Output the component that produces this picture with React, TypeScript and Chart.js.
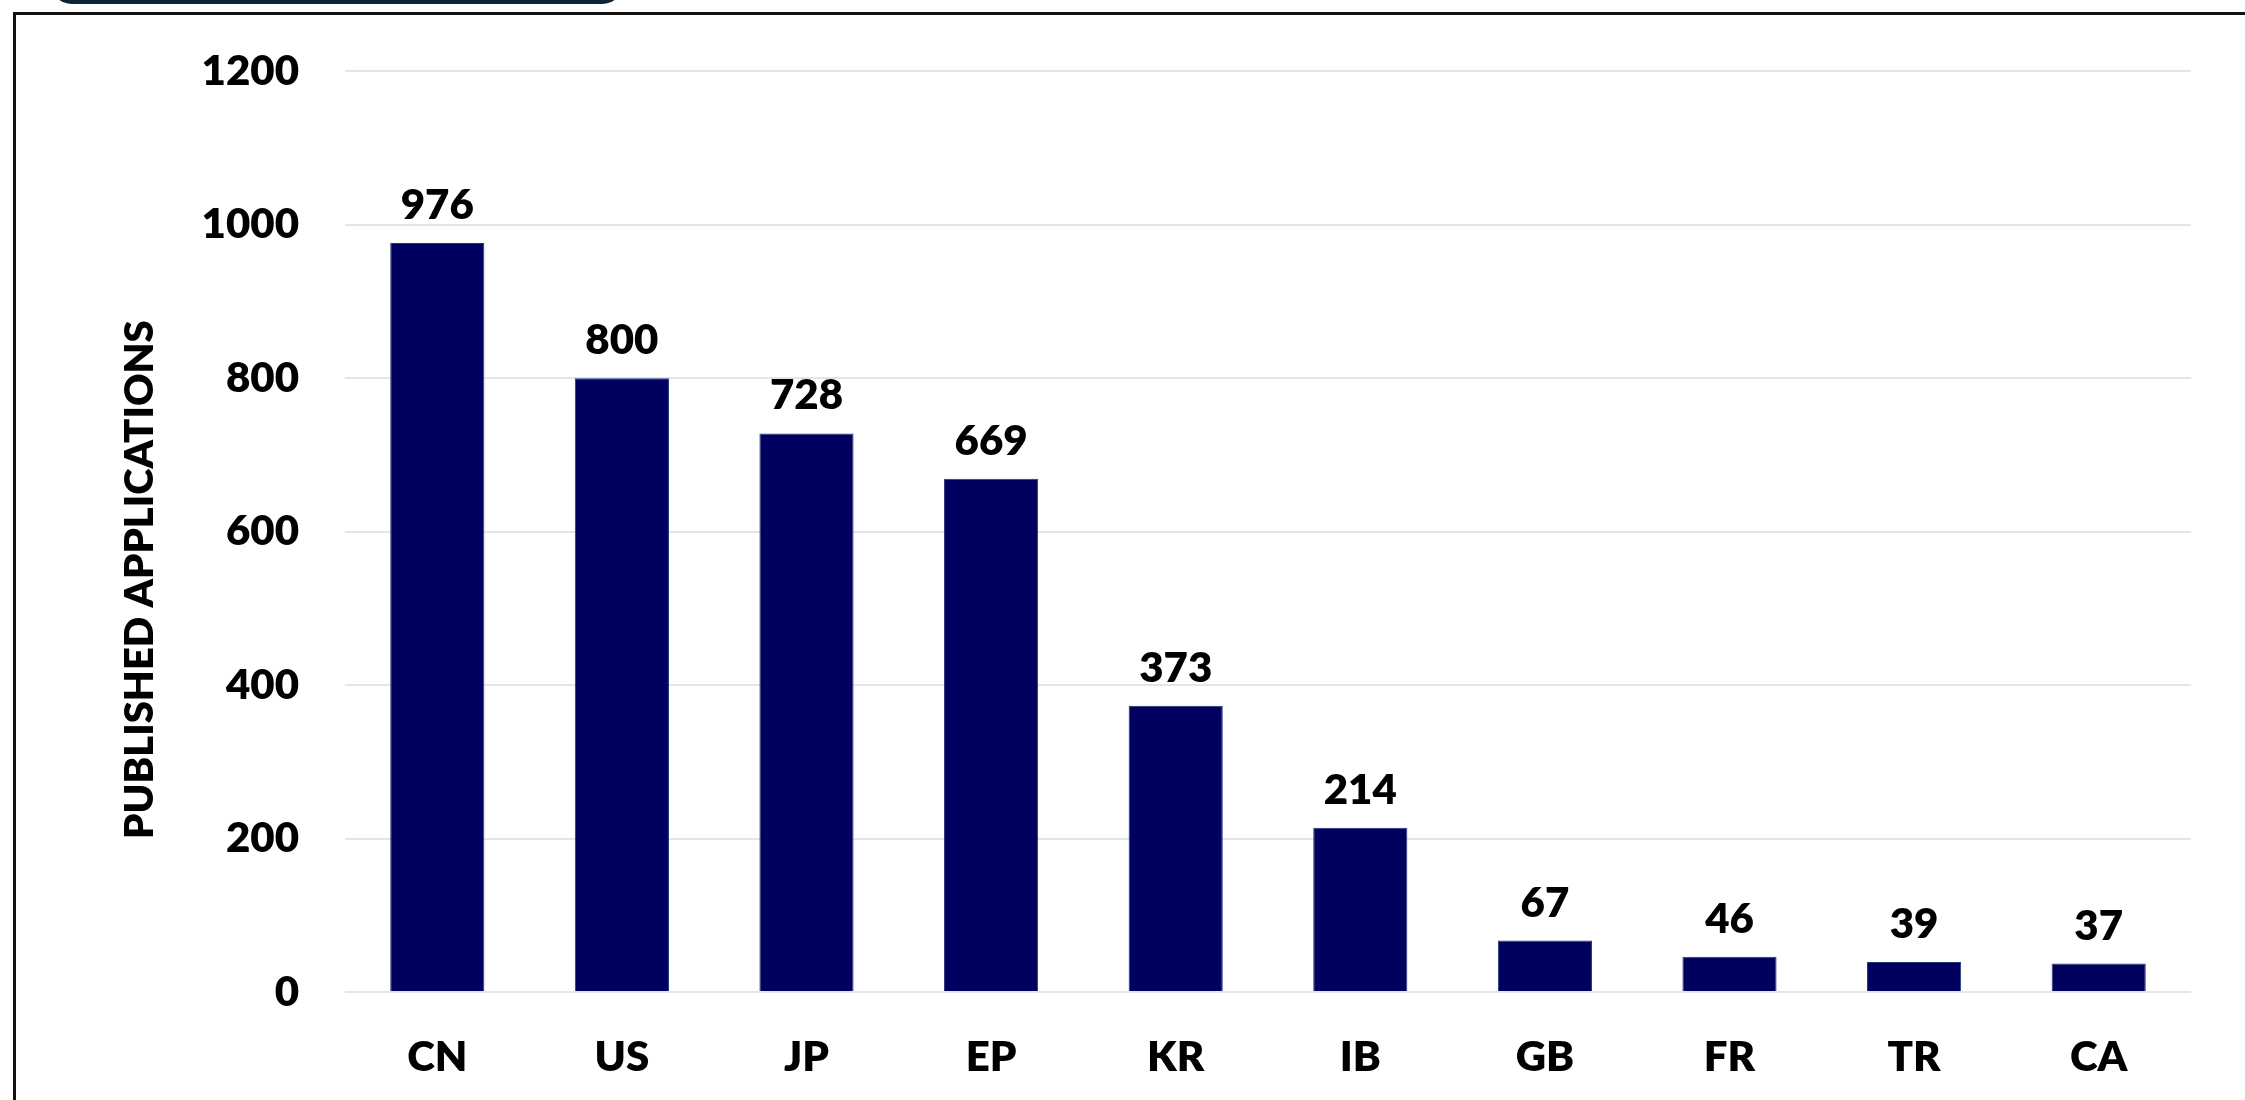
import React, { useEffect, useRef } from "react";
import { Chart, registerables } from "chart.js";

Chart.register(...registerables);

const categories = ["CN", "US", "JP", "EP", "KR", "IB", "GB", "FR", "TR", "CA"];
const applications = [976, 800, 728, 669, 373, 214, 67, 46, 39, 37];
const yTicks = [0, 200, 400, 600, 800, 1000, 1200];
const yAxisTitle = "PUBLISHED APPLICATIONS";

const FONT = "Lato, 'Open Sans', 'DejaVu Sans', sans-serif";
const WEIGHT = "800";
const BAR_COLOR = "#00005f";

const valueLabelPlugin = {
  id: "valueLabels",
  afterDatasetsDraw(chart: any) {
    const ctx = chart.ctx;
    const meta = chart.getDatasetMeta(0);
    ctx.save();
    ctx.fillStyle = "#000000";
    ctx.font = `${WEIGHT} 42px ${FONT}`;
    ctx.textAlign = "center";
    ctx.textBaseline = "alphabetic";
    meta.data.forEach((bar: any, i: number) => {
      ctx.fillText(String(applications[i]), bar.x, bar.y - 24);
    });
    ctx.restore();
  },
};

const axisTitlePlugin = {
  id: "axisTitle",
  afterDraw(chart: any) {
    const ctx = chart.ctx;
    const area = chart.chartArea;
    ctx.save();
    ctx.translate(140, (area.top + area.bottom) / 2 + 48);
    ctx.rotate(-Math.PI / 2);
    ctx.fillStyle = "#000000";
    ctx.font = `${WEIGHT} 40px ${FONT}`;
    ctx.textAlign = "center";
    ctx.textBaseline = "middle";
    ctx.fillText(yAxisTitle, 0, 0);
    ctx.restore();
  },
};

export default function App() {
  const canvasRef = useRef<HTMLCanvasElement | null>(null);

  useEffect(() => {
    if (!canvasRef.current) return;
    const chart = new Chart(canvasRef.current, {
      type: "bar",
      data: {
        labels: categories,
        datasets: [
          {
            data: applications,
            backgroundColor: BAR_COLOR,
            borderColor: "#24357a",
            borderWidth: 1,
            categoryPercentage: 1,
            barPercentage: 0.51,
          },
        ],
      },
      options: {
        animation: false,
        responsive: false,
        devicePixelRatio: 1,
        layout: { padding: { left: 0, right: 54, top: 67, bottom: 0 } },
        plugins: {
          legend: { display: false },
          tooltip: { enabled: false },
          title: { display: false },
        },
        scales: {
          x: {
            afterFit(scale: any) {
              scale.height = 108;
            },
            grid: { display: false, drawTicks: false },
            border: { display: false },
            ticks: {
              color: "#000000",
              padding: 40,
              font: { family: FONT, size: 42, weight: WEIGHT },
            },
          },
          y: {
            min: 0,
            max: 1200,
            afterBuildTicks(scale: any) {
              scale.ticks = yTicks.map((v) => ({ value: v }));
            },
            afterFit(scale: any) {
              scale.width = 345;
            },
            grid: { color: "#e1e7e7", lineWidth: 2, drawTicks: false },
            border: { display: false },
            ticks: {
              color: "#000000",
              padding: 46,
              callback: (v: any) => String(v),
              font: { family: FONT, size: 42, weight: WEIGHT },
            },
          },
        },
      },
      plugins: [valueLabelPlugin, axisTitlePlugin],
    } as any);
    return () => chart.destroy();
  }, []);

  return (
    <div
      style={{
        position: "fixed",
        left: 0,
        top: 0,
        width: 2245,
        height: 1100,
        overflow: "hidden",
        background: "#ffffff",
      }}
    >
      <div
        style={{
          position: "absolute",
          left: 50,
          top: -40,
          width: 574,
          height: 44,
          background: "#0d2436",
          borderRadius: 22,
        }}
      />
      <div
        style={{
          position: "absolute",
          left: 13,
          top: 12,
          width: 2300,
          height: 1200,
          border: "3px solid #111111",
          boxSizing: "border-box",
        }}
      />
      <canvas
        ref={canvasRef}
        width={2245}
        height={1100}
        style={{ position: "absolute", left: 0, top: 0, width: 2245, height: 1100 }}
      />
    </div>
  );
}
